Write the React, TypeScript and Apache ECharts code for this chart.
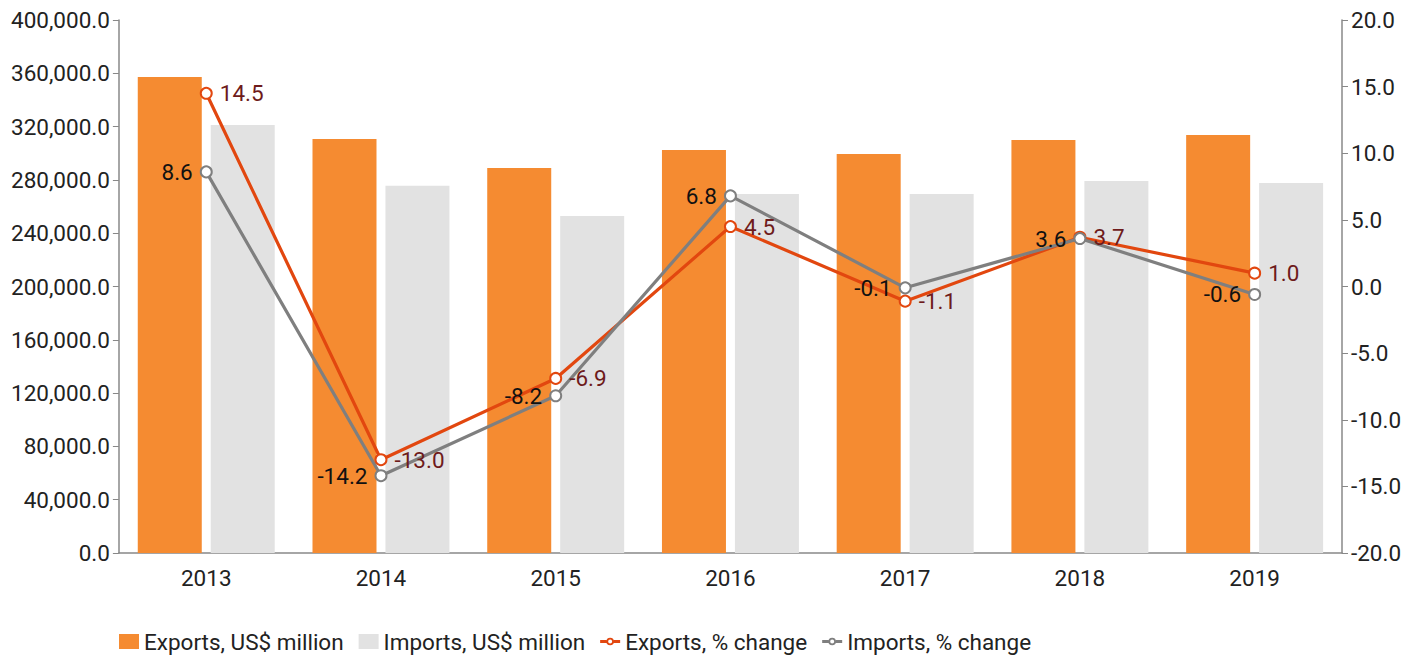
import React, { useEffect, useRef } from "react";
import * as echarts from "echarts";

const years = ["2013", "2014", "2015", "2016", "2017", "2018", "2019"];
const exportsValue = [357200, 310700, 288900, 302400, 299400, 309900, 313700];
const importsValue = [321200, 275600, 252900, 269400, 269400, 279200, 277700];
const exportsChange = [14.5, -13.0, -6.9, 4.5, -1.1, 3.7, 1.0];
const importsChange = [8.6, -14.2, -8.2, 6.8, -0.1, 3.6, -0.6];

const FONT = "Roboto";
const FS = 22.5;
const fmtThousands = (v: number) =>
  v.toLocaleString("en-US", { minimumFractionDigits: 1, maximumFractionDigits: 1 });

const LINE_ICON =
  "path://M0 0L0.01 0L0 0.01Z M20 15L19.99 15L20 14.99Z " +
  "M0 6L6.3 6L6.3 9L0 9Z M13.7 6L20 6L20 9L13.7 9Z " +
  "M13.8 7.5A3.8 3.8 0 1 1 6.2 7.5A3.8 3.8 0 1 1 13.8 7.5Z " +
  "M12 7.5A2 2 0 1 0 8 7.5A2 2 0 1 0 12 7.5Z";

export default function App() {
  const ref = useRef<HTMLDivElement>(null);
  useEffect(() => {
    if (!ref.current) return;
    const chart = echarts.init(ref.current, undefined, { renderer: "svg" });
    chart.setOption({
      animation: false,
      textStyle: { fontFamily: FONT },
      grid: { left: 110, right: 72, top: 12, bottom: 104, containLabel: false },
      legend: {
        left: 106,
        top: 617,
        itemWidth: 20,
        itemHeight: 15,
        itemGap: 15,
        textStyle: { fontFamily: FONT, fontSize: FS, color: "#222" },
        data: [
          { name: "Exports, US$ million", icon: "rect" },
          { name: "Imports, US$ million", icon: "rect" },
          { name: "Exports, % change", icon: LINE_ICON, itemStyle: { borderWidth: 0 } },
          { name: "Imports, % change", icon: LINE_ICON, itemStyle: { borderWidth: 0 } },
        ],
      },
      xAxis: {
        type: "category",
        data: years,
        axisLine: { lineStyle: { color: "#888", width: 1.5 } },
        axisTick: { alignWithLabel: true, length: 6, lineStyle: { color: "#888" } },
        axisLabel: { fontSize: FS, color: "#222", margin: 13, fontFamily: FONT },
      },
      yAxis: [
        {
          type: "value",
          min: 0,
          max: 400000,
          interval: 40000,
          axisLine: { show: true, lineStyle: { color: "#888", width: 1.5 } },
          axisTick: { show: true, length: 6, lineStyle: { color: "#888" } },
          splitLine: { show: false },
          axisLabel: {
            fontSize: FS,
            color: "#222",
            margin: 9,
            fontFamily: FONT,
            formatter: (v: number) => fmtThousands(v),
          },
        },
        {
          type: "value",
          min: -20,
          max: 20,
          interval: 5,
          axisLine: { show: true, lineStyle: { color: "#888", width: 1.5 } },
          axisTick: { show: true, length: 6, lineStyle: { color: "#888" } },
          splitLine: { show: false },
          axisLabel: {
            fontSize: FS,
            color: "#222",
            margin: 9,
            fontFamily: FONT,
            formatter: (v: number) => v.toFixed(1),
          },
        },
      ],
      series: [
        {
          name: "Exports, US$ million",
          type: "bar",
          data: exportsValue,
          barWidth: 64,
          barGap: "14%",
          itemStyle: { color: "#f58b31" },
        },
        {
          name: "Imports, US$ million",
          type: "bar",
          data: importsValue,
          barWidth: 64,
          itemStyle: { color: "#e2e2e2" },
        },
        {
          name: "Exports, % change",
          type: "line",
          yAxisIndex: 1,
          data: exportsChange,
          symbol: "emptyCircle",
          symbolSize: 11,
          lineStyle: { color: "#e2470f", width: 3.2 },
          itemStyle: { color: "#e2470f", borderWidth: 4 },
          label: {
            show: true,
            position: "right",
            distance: 7,
            fontSize: FS,
            color: "#6e1b1b",
            fontFamily: FONT,
            formatter: (p: any) => p.value.toFixed(1),
          },
        },
        {
          name: "Imports, % change",
          type: "line",
          yAxisIndex: 1,
          data: importsChange,
          symbol: "emptyCircle",
          symbolSize: 11,
          lineStyle: { color: "#7f7f7f", width: 3.2 },
          itemStyle: { color: "#7f7f7f", borderWidth: 4 },
          label: {
            show: true,
            position: "left",
            distance: 7,
            fontSize: FS,
            color: "#111",
            fontFamily: FONT,
            formatter: (p: any) => p.value.toFixed(1),
          },
        },
      ],
    });
    return () => chart.dispose();
  }, []);
  return <div ref={ref} style={{ width: 1406, height: 649 }} />;
}
